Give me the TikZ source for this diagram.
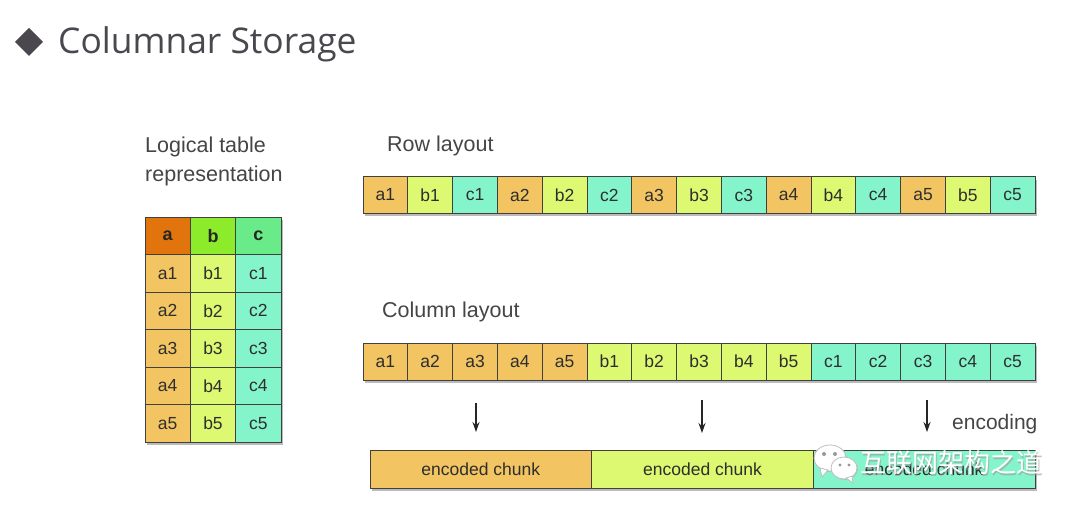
\documentclass[tikz,border=0pt]{standalone}
\usepackage{fontspec}
\setmainfont{Liberation Sans}
\newfontfamily\titlefont{Open Sans}
\newfontfamily\cjk{Noto Sans CJK SC}
\usetikzlibrary{shadows,arrows.meta}
\definecolor{ahead}{HTML}{E2740E}
\definecolor{bhead}{HTML}{8CEB2A}
\definecolor{chead}{HTML}{6AEB8A}
\definecolor{acell}{HTML}{F2C462}
\definecolor{bcell}{HTML}{DDF871}
\definecolor{ccell}{HTML}{84F5CB}
\definecolor{txt}{HTML}{2E2E2E}
\definecolor{titlec}{HTML}{4A484E}
\definecolor{labelc}{HTML}{454545}
\begin{document}
\begin{tikzpicture}[x=1pt,y=-1pt,
  cellbox/.style={draw=black!75, line width=0.8pt, inner sep=0pt,
    font=\fontsize{17.5}{20}\selectfont, text=txt},
  rowcell/.style={cellbox, minimum width=44.8pt, minimum height=36.5pt},
  tabcell/.style={cellbox, minimum width=45.33pt, minimum height=37.5pt},
  headcell/.style={tabcell, font=\bfseries\fontsize{18}{20}\selectfont, text=black!85},
  chunkbox/.style={cellbox, minimum width=221.67pt, minimum height=38pt, font=\fontsize{17.5}{20}\selectfont},
  barbg/.style={draw=none, fill=white, inner sep=0pt,
    drop shadow={shadow xshift=2pt, shadow yshift=-3pt, opacity=0.45, fill=black!60}},
  label/.style={anchor=base west, text=labelc, font=\fontsize{21.5}{26}\selectfont, inner sep=0pt},
  encarrow/.style={-{Stealth[length=10pt,width=7pt]}, line width=1.2pt, black!85}
]
\useasboundingbox (0,0) rectangle (1080,511);
\fill[white] (0,0) rectangle (1080,511);

% title
\fill[titlec] (15,42) -- (29,28) -- (43,42) -- (29,56) -- cycle;
\node[anchor=base west, inner sep=0pt, text=titlec, font=\titlefont\fontsize{35.4}{40}\selectfont] (title) at (58,54) {Columnar Storage};

% logical table
\node[label] (lt1) at (145,153) {Logical table};
\node[label] (lt2) at (145,181) {representation};
\node[barbg, minimum width=136pt, minimum height=225pt, anchor=north west] (tabbg) at (145,217) {};
\node[headcell, fill=ahead] (ha) at (167.67,235.75) {a};
\node[headcell, fill=bhead] (hb) at (213,235.75) {b};
\node[headcell, fill=chead] (hc) at (258.33,235.75) {c};
\foreach \i in {1,...,5}{
  \node[tabcell, fill=acell] (ta\i) at (167.67,235.75+37.5*\i) {a\i};
  \node[tabcell, fill=bcell] (tb\i) at (213,235.75+37.5*\i) {b\i};
  \node[tabcell, fill=ccell] (tc\i) at (258.33,235.75+37.5*\i) {c\i};
}

% row layout
\node[label] (rowlab) at (387,151) {Row layout};
\node[barbg, minimum width=672pt, minimum height=36.5pt, anchor=west] (rowbg) at (363,195) {};
\foreach \i in {1,...,5}{
  \pgfmathsetmacro{\xa}{363+44.8*(3*\i-3+0.5)}
  \pgfmathsetmacro{\xb}{363+44.8*(3*\i-2+0.5)}
  \pgfmathsetmacro{\xc}{363+44.8*(3*\i-1+0.5)}
  \node[rowcell, fill=acell] (ra\i) at (\xa,195) {a\i};
  \node[rowcell, fill=bcell] (rb\i) at (\xb,195) {b\i};
  \node[rowcell, fill=ccell] (rc\i) at (\xc,195) {c\i};
}

% column layout
\node[label] (collab) at (382,317) {Column layout};
\node[barbg, minimum width=672pt, minimum height=37pt, anchor=west] (colbg) at (363,361.5) {};
\foreach \i in {1,...,5}{
  \pgfmathsetmacro{\xa}{363+44.8*(\i-1+0.5)}
  \pgfmathsetmacro{\xb}{363+44.8*(\i+4+0.5)}
  \pgfmathsetmacro{\xc}{363+44.8*(\i+9+0.5)}
  \node[rowcell, minimum height=37pt, fill=acell] (ca\i) at (\xa,361.5) {a\i};
  \node[rowcell, minimum height=37pt, fill=bcell] (cb\i) at (\xb,361.5) {b\i};
  \node[rowcell, minimum height=37pt, fill=ccell] (cc\i) at (\xc,361.5) {c\i};
}

% encoded chunks
\node[barbg, minimum width=665pt, minimum height=38pt, anchor=west] (encbg) at (370,469) {};
\node[chunkbox, fill=acell] (e1) at (480.83,469) {encoded chunk};
\node[chunkbox, fill=bcell] (e2) at (702.5,469) {encoded chunk};
\node[chunkbox, fill=ccell] (e3) at (924.17,469) {encoded chunk};

% arrows
\coordinate (s1) at (476,403); \coordinate (t1) at (476,432);
\coordinate (s2) at (702,400); \coordinate (t2) at (702,433);
\coordinate (s3) at (927,400); \coordinate (t3) at (927,432);
\draw[encarrow] (s1) -- (t1);
\draw[encarrow] (s2) -- (t2);
\draw[encarrow] (s3) -- (t3);
\node[anchor=base west, inner sep=0pt, text=labelc, font=\fontsize{21}{24}\selectfont] (enclab) at (952,429) {encoding};

% watermark
\begin{scope}[line width=0.8pt]
  \fill[black!35, opacity=0.5] (831,459) ellipse [x radius=16, y radius=13];
  \fill[white, draw=black!25] (830,458) ellipse [x radius=16, y radius=13];
  \fill[white, draw=black!25] (820,468) -- (822,477) -- (828,470) -- cycle;
  \fill[black!35, opacity=0.5] (845,469) ellipse [x radius=13, y radius=11];
  \fill[white, draw=black!25] (844,468) ellipse [x radius=13, y radius=11];
  \fill[white, draw=black!25] (852,476) -- (853,483) -- (846,478) -- cycle;
  \fill[black!40] (824,454) circle (2) (835,454) circle (2) (840,465) circle (1.7) (849,465) circle (1.7);
\end{scope}
\node[anchor=west, inner sep=0pt, text=black!40, opacity=0.6, font=\cjk\fontsize{26}{30}\selectfont] at (861.5,464.5) {互联网架构之道};
\node[anchor=west, inner sep=0pt, text=white, font=\cjk\fontsize{26}{30}\selectfont] (wm) at (860,463) {互联网架构之道};
\end{tikzpicture}
\end{document}
